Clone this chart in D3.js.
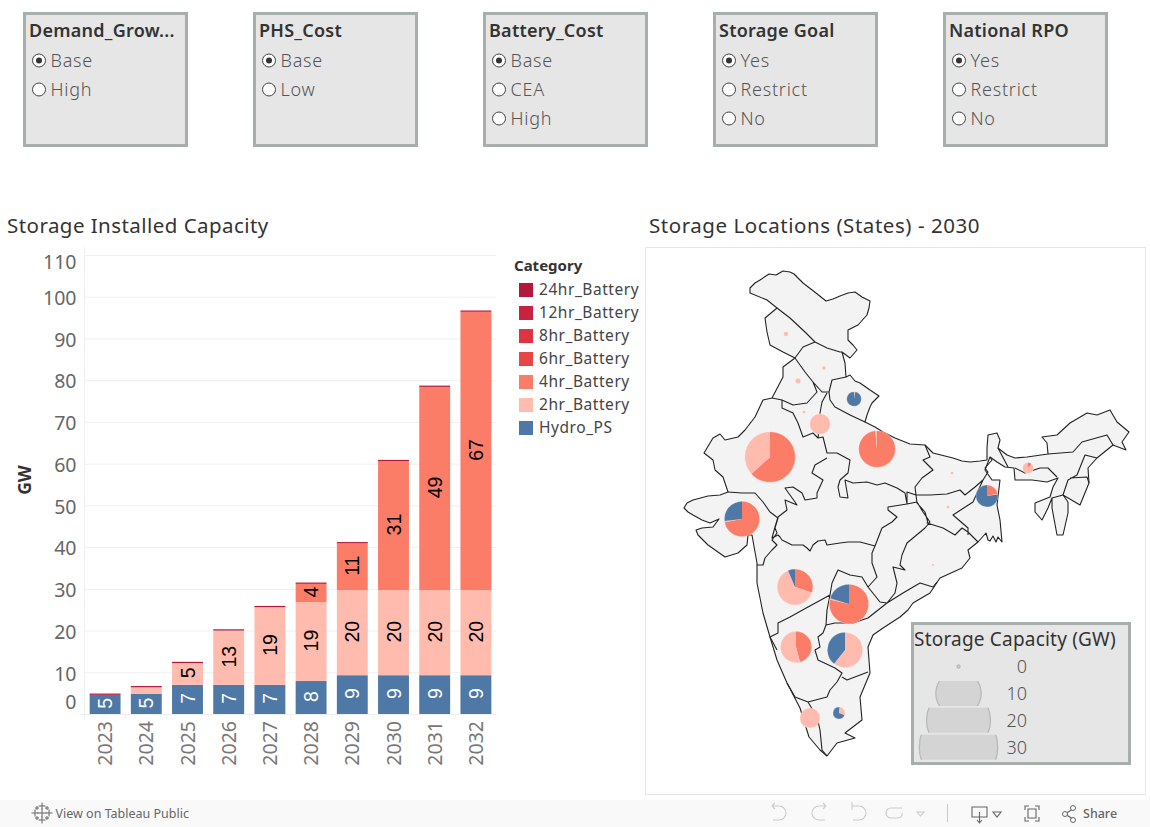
<!DOCTYPE html>
<html>
<head>
  <meta charset="utf-8" />
  <title>Storage Dashboard</title>
  <script src="https://d3js.org/d3.v7.min.js"></script>
  <style>
  html,body{
    margin:0;
    padding:0;
    background:#fff;
  }
  svg{
    display:block;
  }
  text{
    font-family:"Noto Sans",sans-serif;
  }
  </style>
</head>

<body>
<div id="chart"></div>
<script>
  // filter cards
  var filterTitles = ['Demand_Grow...','PHS_Cost','Battery_Cost','Storage Goal','National RPO'];
  var filterOptions = [
    ['Base','High'],
    ['Base','Low'],
    ['Base','CEA','High'],
    ['Yes','Restrict','No'],
    ['Yes','Restrict','No']
  ];

  // bars (GW)
  var years = [2023,2024,2025,2026,2027,2028,2029,2030,2031,2032];
  var hydroPS  = [4.6,4.8,7,7,7,7.9,9.3,9.3,9.3,9.3];
  var hr2      = [0,1.6,5.2,13,18.6,18.9,20.4,20.4,20.4,20.4];
  var hr4      = [0,0,0,0,0,4.4,11.2,30.9,48.7,66.7];
  var hr6      = [0,0,0,0,0,0,0,0,0,0];
  var hr8      = [0,0,0,0,0,0,0,0,0,0];
  var hr12     = [0,0,0,0,0,0,0,0,0,0];
  var hr24     = [0.3,0.3,0.3,0.3,0.3,0.3,0.3,0.3,0.3,0.3];
  var yTicks = [0,10,20,30,40,50,60,70,80,90,100,110];

  var categories = ['24hr_Battery','12hr_Battery','8hr_Battery','6hr_Battery','4hr_Battery','2hr_Battery','Hydro_PS'];
  var categoryColors = ['#b5163b','#cb2140','#de3343','#e84545','#fb7d68','#ffbbae','#4e79a7'];

  // map outline and state borders
  var indiaOutline = [[750,288],[755,283],[760,280],[769,274],[776,275],[783,271],[790,272],[794,274],[803,283],[816,293],[826,301],[833,299],[840,296],[848,293],[855,292],[862,297],[870,301],[869,308],[867,315],[858,325],[848,330],[848,340],[853,345],[857,350],[850,358],[842,352],[845,363],[846,377],[850,375],[855,381],[860,383],[870,390],[879,396],[872,403],[870,407],[867,415],[865,422],[875,427],[883,432],[895,438],[910,444],[925,445],[933,453],[945,456],[953,458],[962,461],[970,462],[980,461],[987,460],[987,448],[988,435],[997,433],[1000,440],[998,448],[1007,455],[1015,458],[1027,457],[1048,454],[1047,443],[1042,437],[1057,435],[1070,423],[1087,413],[1097,415],[1110,410],[1117,422],[1129,432],[1122,442],[1126,450],[1113,445],[1097,458],[1088,468],[1089,483],[1080,505],[1063,495],[1068,502],[1068,513],[1063,535],[1057,535],[1052,508],[1052,498],[1048,508],[1042,520],[1035,512],[1035,503],[1050,497],[1053,487],[1058,478],[1047,482],[1032,480],[1015,480],[1014,468],[1005,467],[997,462],[990,457],[985,470],[992,480],[1000,480],[997,505],[1000,520],[1002,542],[998,537],[996,542],[993,536],[990,541],[988,540],[986,533],[978,542],[968,550],[970,558],[962,568],[940,578],[930,593],[913,603],[908,610],[900,617],[883,628],[873,635],[868,647],[870,673],[860,697],[862,720],[845,733],[855,738],[837,743],[827,756],[820,750],[809,737],[800,708],[787,683],[777,660],[770,637],[763,613],[757,583],[757,563],[755,552],[752,535],[748,535],[747,545],[738,553],[725,557],[708,545],[698,535],[696,530],[702,528],[713,527],[719,519],[710,523],[702,520],[693,515],[688,512],[684,508],[687,503],[693,500],[708,496],[720,495],[728,492],[723,477],[715,470],[713,460],[704,453],[713,438],[720,434],[725,440],[738,437],[745,430],[755,417],[763,400],[772,398],[783,377],[783,367],[795,358],[783,352],[770,345],[767,332],[765,318],[777,308],[767,300],[750,293],[750,288]];
  var stateBorders = [
    [[777,308],[790,318],[805,332],[815,342],[827,348],[840,352],[842,352]],
    [[795,358],[803,347],[815,342]],
    [[795,358],[805,372],[813,382],[822,392],[829,392],[832,380],[846,377]],
    [[829,392],[830,400],[835,407],[850,415],[865,422]],
    [[772,398],[782,400],[793,405],[807,403],[817,392],[813,382]],
    [[782,400],[782,408],[793,413],[798,423],[803,437],[813,433],[818,438],[823,437],[825,445],[827,453],[837,453],[850,460],[848,473],[840,480]],
    [[827,393],[822,402],[820,413],[819,430],[818,438]],
    [[827,458],[815,465],[812,473],[823,480],[817,493],[817,498],[805,500],[802,493],[793,487],[785,488],[795,502],[797,505],[785,500],[787,510],[778,517]],
    [[728,492],[742,493],[755,493],[763,502],[770,512],[778,518],[775,528],[777,533],[772,540],[777,545],[772,550],[765,558],[763,565],[757,565]],
    [[778,517],[775,527],[772,538],[778,535],[780,537],[782,540],[792,545],[803,545],[807,548],[810,551],[813,545],[818,541],[825,540],[827,545],[840,543],[848,542],[860,542],[875,546]],
    [[840,480],[838,487],[840,497],[848,498],[845,480],[853,483],[867,482],[877,485],[885,483],[897,488],[905,493],[907,504]],
    [[907,504],[888,507],[888,510],[897,517],[892,522],[882,528],[875,546]],
    [[907,504],[917,502],[923,512],[930,522],[925,528],[907,543],[902,555],[900,565],[905,570],[893,567],[897,583],[895,593],[887,603]],
    [[875,546],[872,553],[872,563],[877,577],[868,587],[880,602],[887,603]],
    [[887,603],[903,593],[920,583],[933,587],[937,582]],
    [[887,603],[868,618],[853,623],[835,623],[826,625],[823,633]],
    [[868,587],[862,577],[850,575],[838,570],[832,583],[830,595],[827,610],[826,625]],
    [[830,595],[808,607],[790,617],[778,623],[778,633],[770,637]],
    [[823,633],[818,637],[820,647],[815,650],[818,660],[835,668],[842,673],[837,682],[830,690],[827,697],[808,702],[795,697],[787,683]],
    [[842,677],[847,680],[868,672]],
    [[808,702],[817,717],[820,730],[822,750],[827,756]],
    [[770,637],[777,650]],
    [[925,445],[930,457],[923,460],[933,470],[922,478],[915,487],[916,495],[907,492],[907,504]],
    [[916,495],[930,495],[947,494],[960,490],[965,495],[975,487],[983,480],[973,502],[953,515],[968,528],[968,535]],
    [[916,495],[917,503],[925,512],[928,523],[927,523],[943,528],[955,535],[962,528],[968,532],[978,542]],
    [[983,480],[988,472],[985,468],[992,460],[990,457]],
    [[1048,454],[1073,452],[1082,442],[1107,435],[1113,445]],
    [[1097,458],[1085,455],[1077,475],[1068,480],[1063,495],[1052,498]],
    [[1070,478],[1087,477],[1089,483]],
    [[1015,468],[1025,473],[1040,468],[1048,468],[1057,477]],
    [[998,448],[1008,467]]
  ];

  // storage by state, 2030 (GW)
  var pieStates = ['Rajasthan','Gujarat','Maharashtra','Telangana','Karnataka','Andhra Pradesh','Kerala','Tamil Nadu','Uttar Pradesh','Delhi','Uttarakhand','West Bengal','Assam','Himachal Pradesh','Punjab','Jammu and Kashmir','Haryana','Bihar','Jharkhand','Odisha'];
  var stateAnchors = [[770,457],[742,519],[795,587],[849,604],[796,647],[845,650],[810,718],[839,713],[877,449],[820,424],[854,399],[987,496],[1028,468],[824,368],[798,381],[786,334],[804,412],[952,473],[948,507],[933,565]];
  var pie4hr   = [7.9,4.4,1.9,6.0,2.2,0,0,0.02,6.45,0,0,0.52,0.07,0,0,0,0,0,0,0];
  var pie2hr   = [4.6,0.06,4.0,0.08,2.6,3.7,2.0,0.2,0.1,2.1,0.03,0.03,0.53,0.07,0.14,0.12,0.05,0.05,0.05,0.03];
  var pieHydro = [0,1.64,0.4,1.55,0,2.4,0,0.48,0,0,1.02,1.85,0,0,0,0,0,0,0,0];
  var sizeLegend = [0,10,20,30];

  var svg = d3.select('#chart').append('svg').attr('width',1150).attr('height',827);

  // ---- filters
  var card = svg.selectAll('.card').data(filterTitles).enter().append('g')
    .attr('class','card')
    .attr('transform',function(d,i){return 'translate('+(24.5+i*230)+',13.5)'});
  card.append('rect').attr('width',162).attr('height',132)
    .attr('fill','#e6e6e6').attr('stroke','#a7aeac').attr('stroke-width',3);
  card.append('text').attr('x',4.5).attr('y',23.5)
    .attr('font-size',18).attr('font-weight',600).attr('fill','#333').attr('letter-spacing',0.25)
    .text(function(d){return d});
  var option = card.selectAll('.opt').data(function(d,i){return filterOptions[i]}).enter().append('g')
    .attr('class','opt')
    .attr('transform',function(d,i){return 'translate(14.5,'+(47+i*29)+')'});
  option.append('circle').attr('r',6.5).attr('fill','#fff').attr('stroke','#444').attr('stroke-width',1);
  option.filter(function(d,i){return i==0}).append('circle').attr('r',3).attr('fill','#333');
  option.append('text').attr('x',11.5).attr('y',6.5)
    .attr('font-size',18).attr('font-weight',300).attr('fill','#555').attr('letter-spacing',0.75)
    .text(function(d){return d});

  // ---- titles
  svg.append('text').attr('x',7).attr('y',233).attr('font-size',20.5).attr('fill','#333').attr('letter-spacing',0.45).text('Storage Installed Capacity');
  svg.append('text').attr('x',649).attr('y',233).attr('font-size',20.5).attr('fill','#333').attr('letter-spacing',0.55).text('Storage Locations (States) - 2030');

  // ---- stacked bars
  var x = d3.scaleBand().domain(years).range([84.5,496.5]).paddingInner(0.25).paddingOuter(0.125);
  var y = d3.scaleLinear().domain([0,110]).range([714,255]);

  var rows = years.map(function(yr,i){
    return {year:yr,'Hydro_PS':hydroPS[i],'2hr_Battery':hr2[i],'4hr_Battery':hr4[i],'6hr_Battery':hr6[i],'8hr_Battery':hr8[i],'12hr_Battery':hr12[i],'24hr_Battery':hr24[i]};
  });
  var stackKeys = categories.slice().reverse();
  var color = d3.scaleOrdinal().domain(categories).range(categoryColors);
  var series = d3.stack().keys(stackKeys)(rows);

  // gridlines
  svg.append('g').selectAll('line').data(yTicks).enter().append('line')
    .attr('x1',x.range()[0]).attr('x2',x.range()[1])
    .attr('y1',function(d){return y(d)+0.5}).attr('y2',function(d){return y(d)+0.5})
    .attr('stroke','#f0f0f0');
  svg.append('line').attr('x1',84.5).attr('x2',84.5).attr('y1',247).attr('y2',719).attr('stroke','#efefef');
  svg.append('line').attr('x1',79).attr('x2',496.5).attr('y1',714.5).attr('y2',714.5).attr('stroke','#efefef');

  var yAxis = d3.axisLeft(y).tickValues(yTicks).tickSize(0).tickPadding(8);
  var yG = svg.append('g').attr('transform','translate(84.5,0)').call(yAxis);
  yG.select('.domain').remove();
  yG.selectAll('text').attr('font-family','"Noto Sans",sans-serif').attr('font-size',19.5).attr('fill','#666')
    .attr('dy',function(d){return d==0?'-0.3em':d==110?'0.7em':'0.4em'}); // end ticks get pushed inside

  var xAxis = d3.axisBottom(x).tickSize(0);
  var xG = svg.append('g').attr('transform','translate(0,714)').call(xAxis);
  xG.select('.domain').remove();
  xG.selectAll('text').attr('font-family','"Liberation Sans",sans-serif').attr('font-size',19.5).attr('fill','#777')
    .attr('transform','rotate(-90)').attr('text-anchor','end').attr('x',-7).attr('y',0).attr('dy','0.36em');
  // ticks fall between the bands
  svg.append('g').selectAll('line').data(years).enter().append('line')
    .attr('x1',function(d){return x(d)-x.step()*0.125}).attr('x2',function(d){return x(d)-x.step()*0.125})
    .attr('y1',714).attr('y2',719).attr('stroke','#efefef');

  var layer = svg.append('g').selectAll('g').data(series).enter().append('g')
    .attr('fill',function(d){return color(d.key)});
  layer.selectAll('rect').data(function(d){return d}).enter().append('rect')
    .attr('x',function(d){return x(d.data.year)})
    .attr('width',x.bandwidth())
    .attr('y',function(d){return y(d[1])})
    .attr('height',function(d){return y(d[0])-y(d[1])});
  layer.selectAll('text').data(function(d){
      return d.map(function(p){p.key=d.key;return p}).filter(function(p){return p[1]-p[0]>=4});
    }).enter().append('text')
    .attr('transform',function(d){
      return 'translate('+(x(d.data.year)+x.bandwidth()/2)+','+(y((d[0]+d[1])/2)-1)+') rotate(-90)';
    })
    .attr('text-anchor','middle').attr('dy','0.36em')
    .style('font-family','"Liberation Sans",sans-serif').attr('font-size',19.5)
    .attr('fill',function(d){return d.key=='Hydro_PS'?'#fff':'#000'})
    .text(function(d){return Math.round(d[1]-d[0])});

  svg.append('text').attr('transform','translate(31,480) rotate(-90)').attr('text-anchor','middle')
    .attr('font-size',17.5).attr('font-weight',700).attr('fill','#333').text('GW');

  // ---- legend
  svg.append('text').attr('x',514).attr('y',271).attr('font-size',15).attr('font-weight',700).attr('fill','#333').text('Category');
  var leg = svg.selectAll('.leg').data(categories).enter().append('g')
    .attr('class','leg')
    .attr('transform',function(d,i){return 'translate(519,'+(283+i*23)+')'});
  leg.append('rect').attr('width',14).attr('height',14).attr('fill',function(d){return color(d)});
  leg.append('text').attr('x',20).attr('y',12).attr('font-size',15.5).attr('fill','#444').attr('letter-spacing',0.55).text(function(d){return d});

  // ---- map
  svg.append('rect').attr('x',645.5).attr('y',247.5).attr('width',500).attr('height',547)
    .attr('fill','#fff').attr('stroke','#e6e6e6');

  var projection = d3.geoIdentity();
  var geoPath = d3.geoPath(projection);
  svg.append('path').datum({type:'Polygon',coordinates:[indiaOutline]})
    .attr('d',geoPath).attr('fill','#f3f3f3').attr('stroke','#222').attr('stroke-width',1.1).attr('stroke-linejoin','round');
  svg.append('path').datum({type:'MultiLineString',coordinates:stateBorders})
    .attr('d',geoPath).attr('fill','none').attr('stroke','#222').attr('stroke-width',1.1).attr('stroke-linejoin','round');

  // pies, area goes with GW
  var radius = d3.scaleSqrt().domain([0,30]).range([0,39.2]);
  var pieLayout = d3.pie().sort(null).value(function(d){return d.v});
  var arc = d3.arc().innerRadius(0);
  var pies = svg.selectAll('.pie').data(pieStates).enter().append('g')
    .attr('class','pie')
    .attr('transform',function(d,i){return 'translate('+projection(stateAnchors[i])+')'});
  pies.each(function(d,i){
    var total = pie4hr[i]+pie2hr[i]+pieHydro[i];
    var r = radius(total);
    d3.select(this).selectAll('path')
      .data(pieLayout([{k:'4hr_Battery',v:pie4hr[i]},{k:'2hr_Battery',v:pie2hr[i]},{k:'Hydro_PS',v:pieHydro[i]}]))
      .enter().append('path')
      .attr('d',function(s){return arc.outerRadius(r)(s)})
      .attr('fill',function(s){return color(s.data.k)});
    d3.select(this).append('circle').attr('r',r).attr('fill','none').attr('stroke','#fff').attr('stroke-opacity',0.35).attr('stroke-width',0.8);
  });

  // ---- size legend
  var sl = svg.append('g');
  sl.append('rect').attr('x',912.5).attr('y',623.5).attr('width',217).attr('height',140)
    .attr('fill','#e6e6e6').attr('stroke','#a7aeac').attr('stroke-width',3);
  sl.append('text').attr('x',914).attr('y',646).attr('font-size',19).attr('fill','#333').attr('letter-spacing',0.2).text('Storage Capacity (GW)');
  var slRow = sl.selectAll('.slrow').data(sizeLegend).enter().append('g')
    .attr('class','slrow')
    .attr('transform',function(d,i){return 'translate(958.5,'+(666.5+i*26.9)+')'});
  svg.append('defs').append('clipPath').attr('id','slclip').append('rect')
    .attr('x',-45).attr('y',-12.5).attr('width',90).attr('height',25);
  slRow.append('circle').attr('clip-path','url(#slclip)')
    .attr('r',function(d){return Math.max(radius(d),1.5)})
    .attr('fill','#d4d4d4').attr('stroke','#b9b9b9').attr('stroke-width',1.3);
  slRow.append('text').attr('x',68.5).attr('y',6.5).attr('text-anchor','end')
    .attr('font-size',18).attr('font-weight',300).attr('fill','#555').text(function(d){return d});

  // ---- tableau toolbar
  var bar = svg.append('g');
  bar.append('rect').attr('x',0).attr('y',800).attr('width',1150).attr('height',27).attr('fill','#f9f9f9');
  bar.append('text').attr('x',55.5).attr('y',818).attr('font-size',12.5).attr('fill','#666').text('View on Tableau Public');
  bar.append('text').attr('x',1083).attr('y',818).attr('font-size',12.5).attr('font-weight',500).attr('fill','#666').text('Share');
  // logo crosses
  var crosses = [[42,806,3.5],[42,820,3.5],[35,813,3.5],[49,813,3.5],[42,813,4.5],[37,808,2],[47,808,2],[37,818,2],[47,818,2]];
  bar.selectAll('.cross').data(crosses).enter().append('path').attr('class','cross')
    .attr('d',function(d){return 'M'+(d[0]-d[2])+','+d[1]+'h'+(2*d[2])+'M'+d[0]+','+(d[1]-d[2])+'v'+(2*d[2])})
    .attr('stroke','#666').attr('stroke-width',1).attr('fill','none');
  var icons = [
    ['M772,806h7a6,6 0 0 1 0,14h-6M772,806l3,-3M772,806l3,3','#ccc'],
    ['M826,806h-7a6,6 0 0 0 0,14h6M826,806l-3,-3M826,806l-3,3','#ccc'],
    ['M852,806h7a6,6 0 0 1 0,14h-6M852,802v8','#ccc'],
    ['M902,808h-11a4,4 0 0 0 0,10h7a4,4 0 0 0 4,-5','#ccc'],
    ['M917,812h7l-3.5,4z','#ccc'],
    ['M947.5,804v18','#ccc'],
    ['M972,807h15v10h-15zM979.5,812v11M977,820l2.5,3l2.5,-3','#666'],
    ['M993,812h8l-4,5z','#666'],
    ['M1025,810v-4h4M1035,806h4v4M1039,817v4h-4M1029,821h-4v-4M1028,809h8v9h-8z','#666'],
    ['M1065,814l8,-5M1065,814l8,5','#666']
  ];
  bar.selectAll('.icon').data(icons).enter().append('path').attr('class','icon')
    .attr('d',function(d){return d[0]}).attr('stroke',function(d){return d[1]}).attr('fill','none').attr('stroke-width',1.1);
  bar.selectAll('.dot').data([[1065,814],[1073,808],[1073,820]]).enter().append('circle').attr('class','dot')
    .attr('cx',function(d){return d[0]}).attr('cy',function(d){return d[1]}).attr('r',2.5)
    .attr('fill','#f9f9f9').attr('stroke','#666');
</script>
</body>
</html>
